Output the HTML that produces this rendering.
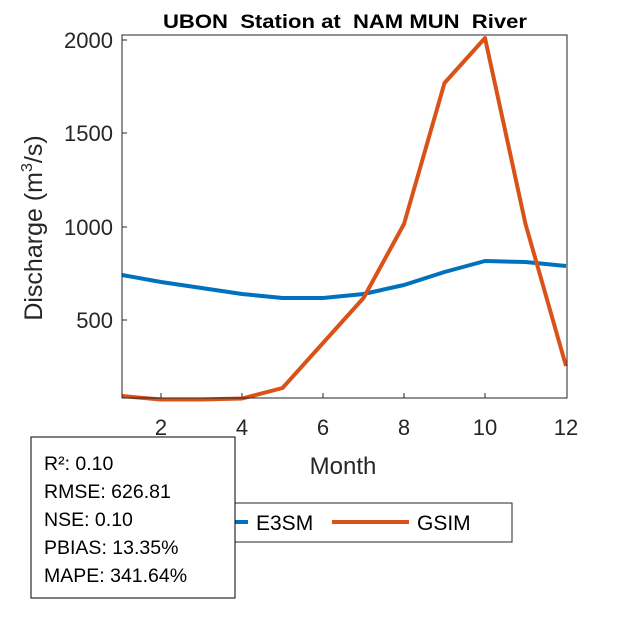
<!DOCTYPE html>
<html><head><style>body{margin:0;background:#fff}svg{display:block}text{font-family:"Liberation Sans",sans-serif;white-space:pre}</style></head><body>
<svg width="625" height="625" viewBox="0 0 625 625" xmlns="http://www.w3.org/2000/svg">
<rect width="625" height="625" fill="#fff"/>
<text x="163" y="28" font-size="19" font-weight="bold" fill="#000" xml:space="preserve" textLength="364" lengthAdjust="spacingAndGlyphs">UBON  Station at  NAM MUN  River</text>
<g stroke="#262626" stroke-width="1">
<line x1="161" y1="398" x2="161" y2="393"/><line x1="242" y1="398" x2="242" y2="393"/><line x1="323" y1="398" x2="323" y2="393"/><line x1="404" y1="398" x2="404" y2="393"/><line x1="485" y1="398" x2="485" y2="393"/>
<line x1="122" y1="40" x2="127" y2="40"/><line x1="122" y1="133" x2="127" y2="133"/><line x1="122" y1="227" x2="127" y2="227"/><line x1="122" y1="320" x2="127" y2="320"/>
</g>
<g font-size="22" fill="#262626" text-anchor="middle">
<text x="161" y="435">2</text><text x="242" y="435">4</text><text x="323" y="435">6</text><text x="404" y="435">8</text><text x="485" y="435">10</text><text x="566" y="435">12</text>
</g>
<g font-size="22" fill="#262626" text-anchor="end">
<text x="113" y="48">2000</text><text x="113" y="141">1500</text><text x="113" y="235">1000</text><text x="113" y="328">500</text>
</g>
<text x="343" y="474" font-size="24" fill="#262626" text-anchor="middle">Month</text>
<text transform="translate(42,228) rotate(-90)" font-size="25" fill="#262626" text-anchor="middle">Discharge (m<tspan font-size="16" dy="-10">3</tspan><tspan dy="10">/s)</tspan></text>
<g fill="none" stroke-width="4" stroke-linejoin="round">
<polyline stroke="#0072BD" points="122,275 161,282 201.5,288 242,294 282.5,298 323,298 363.5,294 404,285 444.5,272 485,261 525.5,262 566,266"/>
<polyline stroke="#D95319" points="122,396 161,399.5 201.5,399.5 242,398.5 282.5,388 323,343 363.5,298 404,224 444.5,83 485,38 525.5,224 566,366"/>
</g>
<rect x="122" y="35" width="445" height="363" fill="none" stroke="#262626" stroke-width="1"/>
<rect x="205" y="503" width="307" height="39" fill="#fff" stroke="#262626" stroke-width="1"/>
<line x1="220" y1="522" x2="248" y2="522" stroke="#0072BD" stroke-width="4"/>
<text x="256" y="530" font-size="21" fill="#000">E3SM</text>
<line x1="332" y1="522" x2="409" y2="522" stroke="#D95319" stroke-width="4"/>
<text x="417" y="530" font-size="21" fill="#000">GSIM</text>
<rect x="31" y="437" width="204" height="161" fill="#fff" stroke="#000" stroke-width="1"/>
<g font-size="19.5" fill="#000">
<text x="44" y="470">R²: 0.10</text>
<text x="44" y="498">RMSE: 626.81</text>
<text x="44" y="526">NSE: 0.10</text>
<text x="44" y="554">PBIAS: 13.35%</text>
<text x="44" y="582">MAPE: 341.64%</text>
</g>
</svg>
</body></html>
